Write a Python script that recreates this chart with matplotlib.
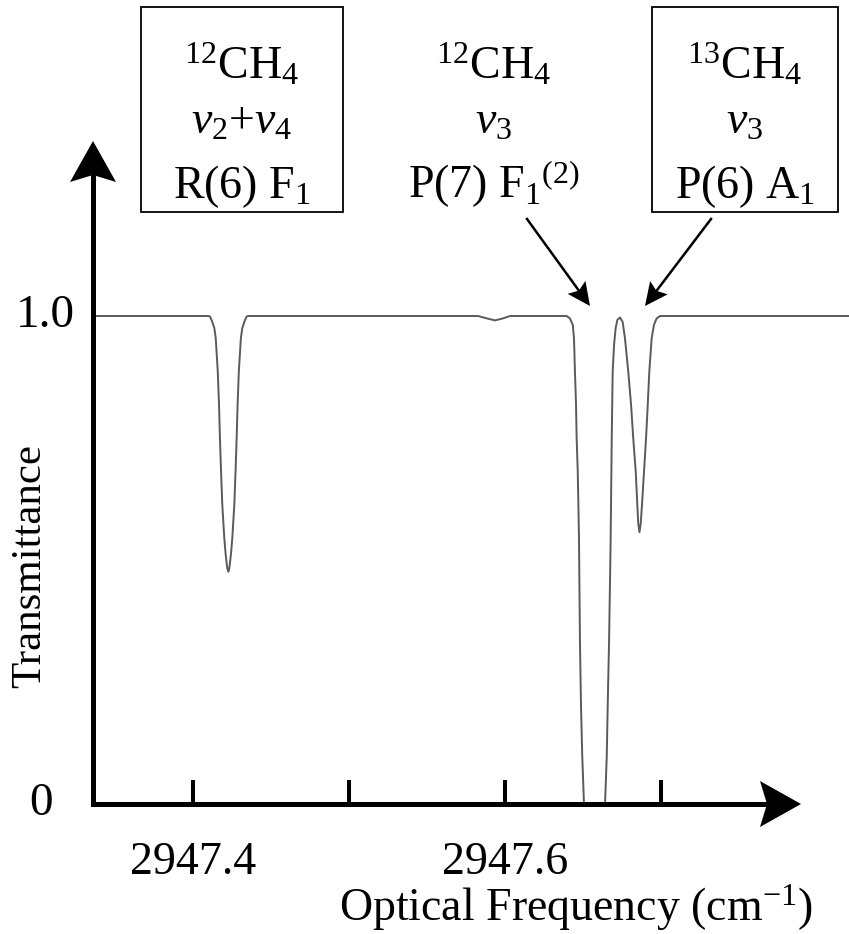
import matplotlib
matplotlib.use('Agg')
import matplotlib.pyplot as plt
import numpy as np
from matplotlib import transforms
from matplotlib.patches import Polygon, Rectangle

plt.rcParams['font.family'] = ['Liberation Serif', 'DejaVu Serif']
plt.rcParams['mathtext.fontset'] = 'custom'
plt.rcParams['mathtext.rm'] = 'Liberation Serif'
plt.rcParams['mathtext.it'] = 'Liberation Serif:italic'
plt.rcParams['mathtext.bf'] = 'Liberation Serif:bold'

# transmission trace: optical frequency (cm^-1) vs transmittance
wavenumber = [
    2947.3357, 2947.4096, 2947.4107, 2947.4122, 2947.4135, 2947.4144, 2947.4157,
    2947.4165, 2947.4171, 2947.4178, 2947.4186, 2947.4199, 2947.4208, 2947.4218,
    2947.4225, 2947.4231, 2947.4241, 2947.4250, 2947.4263, 2947.4271, 2947.4278,
    2947.4284, 2947.4292, 2947.4305, 2947.4314, 2947.4327, 2947.4342, 2947.4353,
    2947.5826, 2947.5884, 2947.5935, 2947.5986, 2947.6031,
    2947.6395, 2947.6416, 2947.6434, 2947.6442, 2947.6448, 2947.6455, 2947.6459,
    2947.6466, 2947.6470, 2947.6474, 2947.6480, 2947.6487, 2947.6495, 2947.6506,
    2947.6641, 2947.6652, 2947.6658, 2947.6667, 2947.6677, 2947.6684, 2947.6690,
    2947.6699, 2947.6709, 2947.6720, 2947.6737, 2947.6754, 2947.6769, 2947.6790,
    2947.6808, 2947.6822, 2947.6838, 2947.6848, 2947.6854, 2947.6862, 2947.6870,
    2947.6878, 2947.6891, 2947.6904, 2947.6915, 2947.6925, 2947.6940, 2947.6955,
    2947.6972, 2947.6994, 2947.8206,
]
transmittance = [
    1.000, 1.000, 0.999, 0.988, 0.975, 0.954, 0.886,
    0.818, 0.749, 0.681, 0.613, 0.544, 0.510, 0.483,
    0.476, 0.483, 0.510, 0.544, 0.613, 0.681, 0.749,
    0.818, 0.886, 0.954, 0.975, 0.988, 0.999, 1.000,
    1.000, 0.995, 0.991, 0.995, 1.000,
    1.000, 0.995, 0.982, 0.954, 0.886, 0.818, 0.749,
    0.681, 0.613, 0.544, 0.336, 0.199, 0.097, 0.000,
    0.000, 0.097, 0.199, 0.336, 0.541, 0.749, 0.886,
    0.941, 0.975, 0.992, 0.997, 0.988, 0.954, 0.886,
    0.818, 0.749, 0.681, 0.613, 0.575, 0.557, 0.575,
    0.613, 0.681, 0.749, 0.818, 0.886, 0.954, 0.982,
    0.995, 1.000, 1.000,
]

tick_positions = [2947.4, 2947.5, 2947.6, 2947.7]
tick_labels = ['2947.4', '', '2947.6', '']

# line assignments: (lines of text, framed?)
line_labels = [
    ([r'$^{12}$CH$_4$', r'$\nu_2$+$\nu_4$', r'R(6) F$_1$'], True),
    ([r'$^{12}$CH$_4$', r'$\nu_3$', r'P(7) F$_1$$^{(2)}$'], False),
    ([r'$^{13}$CH$_4$', r'$\nu_3$', r'P(6) A$_1$'], True),
]

W, H = 849, 934
fig = plt.figure(figsize=(W / 100, H / 100), dpi=100)
# pixel coordinates measured from the top-left corner
px = transforms.Affine2D().scale(0.01, -0.01).translate(0, H / 100) + fig.dpi_scale_trans

# data scale: 1559 px per cm^-1, 488 px per unit transmittance
x0_px, y0_px = 193.3, 804
xmin = 2947.4 + (93 - x0_px) / 1559
xmax = 2947.4 + (W - x0_px) / 1559
ymax = (y0_px - 140) / 488
ax = fig.add_axes([93 / W, (H - y0_px) / H, (W - 93) / W, (y0_px - 140) / H])
ax.set_xlim(xmin, xmax)
ax.set_ylim(0, ymax)
ax.patch.set_visible(False)

ax.plot(wavenumber, transmittance, color='#5a5a5a', lw=1.4, zorder=2)

for side in ['top', 'right']:
    ax.spines[side].set_visible(False)
for side in ['bottom', 'left']:
    ax.spines[side].set_linewidth(3.6)
ax.spines['bottom'].set_bounds(xmin, 2947.4 + (772 - x0_px) / 1559)
ax.spines['left'].set_bounds(0, (y0_px - 172) / 488)

ax.set_xticks(tick_positions)
ax.set_xticklabels(tick_labels)
ax.tick_params(axis='x', direction='in', length=17, width=2.9, color='k',
               labelsize=33, pad=27)
ax.set_yticks([])

# axis arrow heads
def head(tip, back, length, half, notch, **kw):
    tip = np.array(tip, float)
    d = tip - np.array(back, float)
    d /= np.hypot(*d)
    n = np.array([-d[1], d[0]])
    base = tip - d * length
    pts = [tip, base + n * half, tip - d * (length - notch), base - n * half]
    fig.add_artist(Polygon(pts, closed=True, transform=px, color='k', lw=0, **kw))
    return tip - d * (length - notch)

head((93, 141), (93, 400), 41, 23, 7)
head((801, 804), (600, 804), 41, 23, 7)

fig.text(45, 316, '1.0', transform=px, fontsize=34, ha='center', va='center')
fig.text(41, 804, '0', transform=px, fontsize=34, ha='center', va='center')
fig.text(30, 566, 'Transmittance', transform=px, fontsize=31, rotation=90,
         ha='center', va='center')
fig.text(576, 921, r'Optical Frequency (cm$^{-1}$)', transform=px, fontsize=33,
         ha='center', va='baseline')

# line assignment labels
centers = [242, 494, 745]
baselines = [79, 134, 198]
for (lines, framed), cx in zip(line_labels, centers):
    for s, yb in zip(lines, baselines):
        fig.text(cx, yb, s, transform=px, fontsize=33, ha='center', va='baseline')
boxes = [(141, 7, 343, 212), (652, 7, 838, 212)]
for x1, y1, x2, y2 in boxes:
    fig.add_artist(Rectangle((x1, y2), x2 - x1, y1 - y2, transform=px,
                             fill=False, ec='k', lw=1.3))

# arrows pointing at the two close lines
for tail, tip in [((527, 219), (590, 306)), ((711, 219), (645, 306))]:
    end = head(tip, tail, 23, 11, 4)
    fig.add_artist(plt.Line2D([tail[0], end[0]], [tail[1], end[1]], transform=px,
                              color='k', lw=1.8))

fig.savefig('out.png', dpi=100)
